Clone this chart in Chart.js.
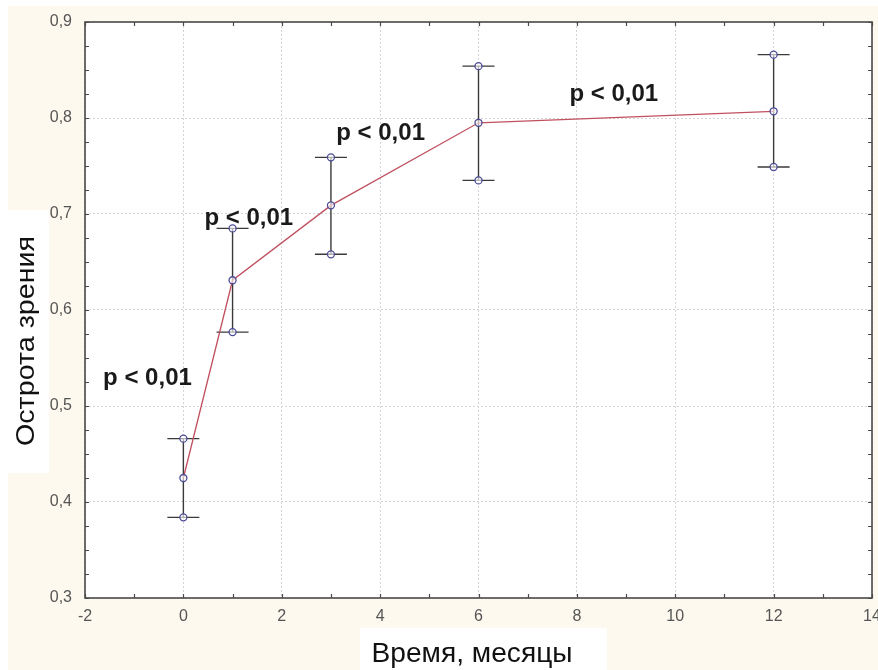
<!DOCTYPE html>
<html>
<head>
<meta charset="utf-8">
<script src="https://cdn.jsdelivr.net/npm/chart.js@4/dist/chart.umd.min.js"></script>
<style>
html,body{margin:0;padding:0;background:#fdf9ee;}
#wrap{width:878px;height:670px;position:relative;}
</style>
</head>
<body>
<div id="wrap"><canvas id="c" width="878" height="670"></canvas></div>
<script>
// ---- data ----
const months = [0, 1, 3, 6, 12];
const meanAcuity = [0.425, 0.631, 0.709, 0.795, 0.807];
const upperAcuity = [0.466, 0.685, 0.759, 0.854, 0.866];
const lowerAcuity = [0.384, 0.577, 0.658, 0.735, 0.749];
const annX = [-0.73, 1.33, 4.01, 8.75];
const annY = [0.522, 0.6885, 0.777, 0.818];
const annText = ['p < 0,01', 'p < 0,01', 'p < 0,01', 'p < 0,01'];
const xTitle = 'Время, месяцы';
const yTitle = 'Острота зрения';
const xMin = -2, xMax = 14, xStep = 2;
const yMin = 0.3, yMax = 0.9, yStep = 0.1;

const FONT = '"Liberation Sans", Arial, sans-serif';
const toPts = (ys) => months.map((m, i) => ({x: m, y: ys[i]}));

const bgPlugin = {
  id: 'bg',
  beforeDraw(chart) {
    const ctx = chart.ctx, a = chart.chartArea;
    ctx.save();
    ctx.fillStyle = '#fdf9ee';
    ctx.fillRect(0, 0, chart.width, chart.height);
    ctx.fillStyle = '#ffffff';
    ctx.fillRect(0, 0, chart.width, 6);
    ctx.fillRect(0, 0, 8, chart.height);
    ctx.fillRect(a.left, a.top, a.right - a.left, a.bottom - a.top);
    ctx.fillRect(8, 210, 41, 263);
    ctx.fillRect(360, 628, 247, 42);
    ctx.restore();
  }
};

const framePlugin = {
  id: 'frame',
  beforeDatasetsDraw(chart) {
    const ctx = chart.ctx, a = chart.chartArea;
    const xs = chart.scales.x, ys = chart.scales.y;
    ctx.save();
    // error bars
    ctx.strokeStyle = '#3a3a3a';
    ctx.lineWidth = 1.4;
    months.forEach((m, i) => {
      const px = xs.getPixelForValue(m);
      const pu = ys.getPixelForValue(upperAcuity[i]);
      const pl = ys.getPixelForValue(lowerAcuity[i]);
      ctx.beginPath();
      ctx.moveTo(px, pu); ctx.lineTo(px, pl);
      ctx.moveTo(px - 16, pu); ctx.lineTo(px + 16, pu);
      ctx.moveTo(px - 16, pl); ctx.lineTo(px + 16, pl);
      ctx.stroke();
    });
    ctx.restore();
  },
  afterDatasetsDraw(chart) {
    const ctx = chart.ctx, a = chart.chartArea;
    const xs = chart.scales.x, ys = chart.scales.y;
    ctx.save();
    // frame
    ctx.strokeStyle = '#4a4a4a';
    ctx.lineWidth = 1.6;
    ctx.strokeRect(a.left, a.top, a.right - a.left, a.bottom - a.top);
    // inward ticks (major + minor)
    ctx.lineWidth = 1.2;
    ctx.beginPath();
    for (let v = xMin; v <= xMax + 1e-9; v += 1) {
      const px = Math.round(xs.getPixelForValue(v)) + 0.5;
      ctx.moveTo(px, a.bottom); ctx.lineTo(px, a.bottom - 4);
      ctx.moveTo(px, a.top); ctx.lineTo(px, a.top + 4);
    }
    for (let k = 0; k <= 24; k++) {
      const v = yMin + k * 0.025;
      const py = Math.round(ys.getPixelForValue(v)) + 0.5;
      ctx.moveTo(a.left, py); ctx.lineTo(a.left + 4, py);
      ctx.moveTo(a.right, py); ctx.lineTo(a.right - 4, py);
    }
    ctx.stroke();
    // annotations
    ctx.fillStyle = '#1a1a1a';
    ctx.font = 'bold 24px ' + FONT;
    ctx.textAlign = 'center';
    ctx.textBaseline = 'alphabetic';
    annText.forEach((t, i) => {
      ctx.fillText(t, xs.getPixelForValue(annX[i]), ys.getPixelForValue(annY[i]));
    });
    // axis titles
    ctx.fillStyle = '#111111';
    ctx.font = '28px ' + FONT;
    let w = ctx.measureText(xTitle).width;
    ctx.save();
    ctx.translate(472, 662);
    ctx.scale(201 / w, 1);
    ctx.fillText(xTitle, 0, 0);
    ctx.restore();
    ctx.font = '25px ' + FONT;
    w = ctx.measureText(yTitle).width;
    ctx.save();
    ctx.translate(34, 341);
    ctx.rotate(-Math.PI / 2);
    ctx.scale(210 / w, 1);
    ctx.fillText(yTitle, 0, 0);
    ctx.restore();
    ctx.restore();
  }
};

const pointStyle = {
  pointRadius: 3.5,
  pointBorderWidth: 1.3,
  pointBorderColor: '#4b4b96',
  pointBackgroundColor: 'rgba(255,255,255,0.6)',
  pointHoverRadius: 3.5
};

new Chart(document.getElementById('c'), {
  type: 'scatter',
  data: {
    datasets: [
      Object.assign({label: 'mean', data: toPts(meanAcuity), showLine: true, borderColor: '#c0505f', borderWidth: 1.3, tension: 0}, pointStyle),
      Object.assign({label: 'upper', data: toPts(upperAcuity), showLine: false}, pointStyle),
      Object.assign({label: 'lower', data: toPts(lowerAcuity), showLine: false}, pointStyle)
    ]
  },
  options: {
    responsive: false,
    animation: false,
    devicePixelRatio: 1,
    layout: {padding: {left: 0, top: 22, right: 6, bottom: 0}},
    plugins: {legend: {display: false}, tooltip: {enabled: false}},
    scales: {
      x: {
        type: 'linear', min: xMin, max: xMax,
        ticks: {stepSize: xStep, padding: 9, color: '#555555', font: {size: 16, family: FONT},
          callback: (v) => String(v)},
        grid: {color: '#d4d4d4', lineWidth: 1, drawTicks: false},
        border: {display: false, dash: [2, 2]},
        afterFit(s) { s.height = 72; s.paddingLeft = 0; s.paddingRight = 0; }
      },
      y: {
        type: 'linear', min: yMin, max: yMax,
        ticks: {stepSize: yStep, padding: 13, color: '#555555', font: {size: 16, family: FONT},
          callback: (v) => v.toFixed(1).replace('.', ',')},
        grid: {color: '#d4d4d4', lineWidth: 1, drawTicks: false},
        border: {display: false, dash: [2, 2]},
        afterFit(s) { s.width = 85; s.paddingTop = 0; s.paddingBottom = 0; }
      }
    }
  },
  plugins: [bgPlugin, framePlugin]
});
</script>
</body>
</html>
